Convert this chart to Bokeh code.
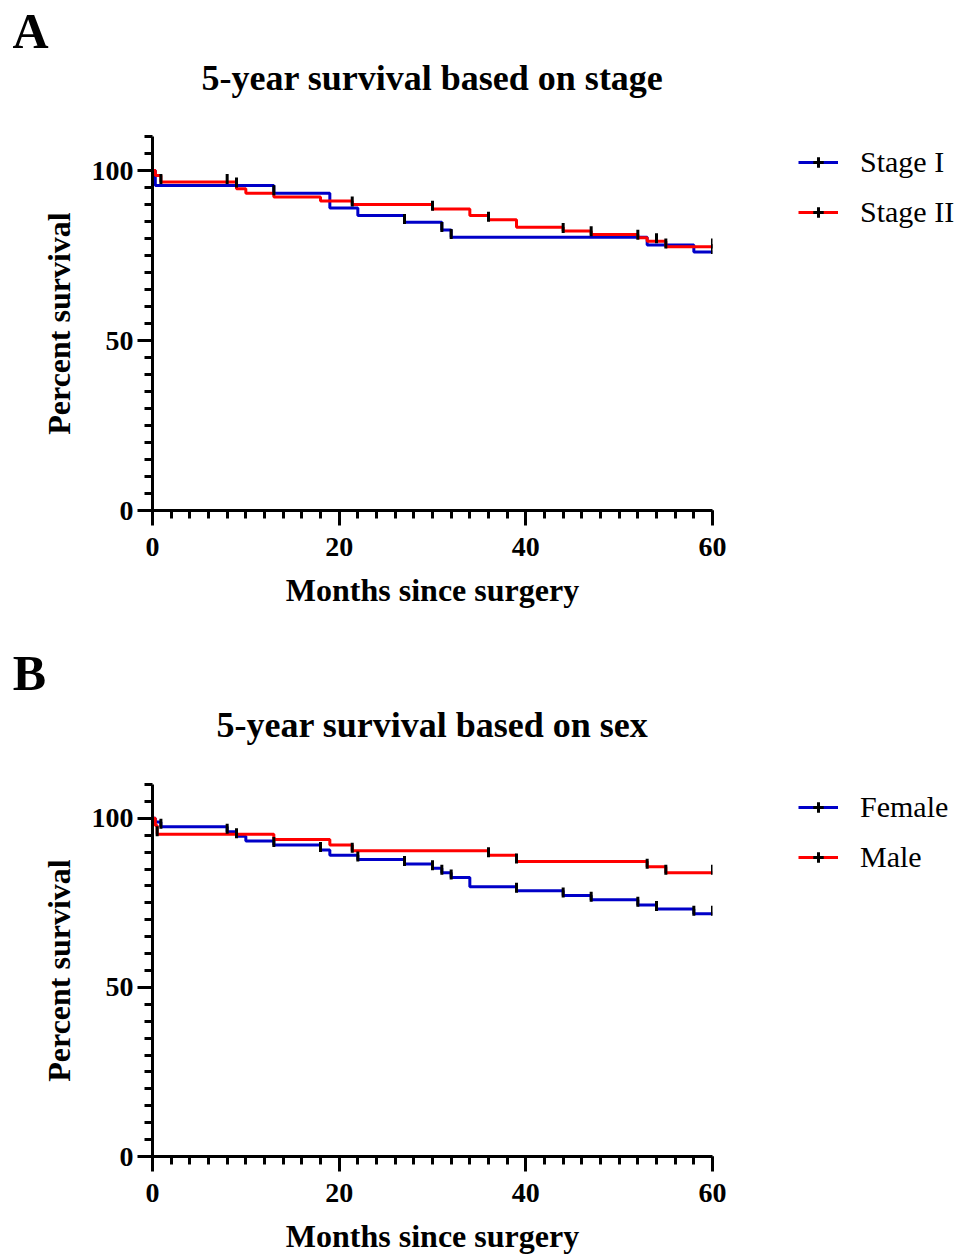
import math
from bokeh.plotting import figure
from bokeh.models import Range1d, FixedTicker, Legend, LegendItem, Label
from bokeh.layouts import column, row
from bokeh.embed import file_html
from bokeh.resources import INLINE

# ---------------- data ----------------
# Panel A: survival by stage (months, percent survival)
stage1_t = [0, 0.3, 13, 19, 22, 27, 31, 32, 53, 58, 60]
stage1_s = [100, 95.6, 93.3, 89.0, 86.8, 84.8, 82.5, 80.4, 78.1, 76.0, 76.0]
stage1_cens = [9, 13, 27, 31, 32, 60]

stage2_t = [0, 0.3, 0.9, 9, 10, 13, 18, 21.4, 30, 34, 36, 39, 44, 47, 52, 53, 55, 60]
stage2_s = [100, 98.5, 96.6, 94.6, 93.3, 92.2, 91.0, 90.0, 88.7, 86.8, 85.5, 83.3, 82.2, 81.2, 80.2, 79.2, 77.6, 77.6]
stage2_cens = [0.9, 8, 21.4, 30, 36, 44, 47, 52, 54, 55, 60]

# Panel B: survival by sex
female_t = [0, 0.3, 0.9, 8, 9, 10, 13, 18, 19, 22, 27, 30, 31, 32, 34, 39, 44, 47, 52, 54, 58, 60]
female_s = [100, 98.9, 97.5, 96.0, 94.7, 93.3, 92.1, 90.6, 89.1, 87.8, 86.5, 85.2, 83.9, 82.5, 79.8, 78.6, 77.2, 75.9, 74.4, 73.2, 71.8, 71.8]
female_cens = [0.9, 8, 9, 13, 18, 22, 27, 30, 31, 32, 39, 44, 47, 52, 54, 58, 60]

male_t = [0, 0.3, 0.5, 13, 19, 21.4, 36, 39, 53, 55, 60]
male_s = [100, 97.9, 95.3, 93.7, 92.1, 90.4, 89.1, 87.2, 85.7, 83.9, 83.9]
male_cens = [0.5, 21.4, 36, 39, 53, 55, 60]

x_major = [0, 20, 40, 60]
y_major = [0, 50, 100]
X_MAX, Y_MAX = 60, 110

BLUE = "#0000C8"
RED = "#FF0000"
FONT = "Liberation Serif"

W = 957
MAIN_W = 745
LEG_W = W - MAIN_W
FRAME_L, FRAME_R = 152, 712
TOP_PAD = 6
LEG_GLYPH_X = 798


def step_value(ts, ss, t):
    v = ss[0]
    for ti, si in zip(ts, ss):
        if ti <= t:
            v = si
    return v


def blank(width, height):
    f = figure(width=width, height=height, output_backend="svg", toolbar_location=None,
               x_axis_type=None, y_axis_type=None,
               min_border_left=0, min_border_right=0, min_border_top=0, min_border_bottom=0)
    f.outline_line_color = None
    f.grid.visible = False
    return f


def make_panel(letter, title, series, panel_h, frame_top, frame_bottom,
               letter_xy, title_xy, legend_row1_y):
    hdr_h = frame_top - TOP_PAD
    body_h = panel_h - hdr_h

    # header: panel letter + title (pixel coordinate ranges)
    hdr = blank(W, hdr_h)
    hdr.x_range = Range1d(0, W)
    hdr.y_range = Range1d(hdr_h, 0)
    hdr.add_layout(Label(x=letter_xy[0], y=letter_xy[1], text=letter, text_align="center",
                         text_baseline="middle", text_font=FONT, text_font_style="bold",
                         text_font_size="50px", text_color="black"))
    hdr.add_layout(Label(x=title_xy[0], y=title_xy[1], text=title, text_align="center",
                         text_baseline="middle", text_font=FONT, text_font_style="bold",
                         text_font_size="36px", text_color="black"))

    # main plot
    p = figure(width=MAIN_W, height=body_h, output_backend="svg", toolbar_location=None,
               x_range=Range1d(0, X_MAX), y_range=Range1d(0, Y_MAX),
               min_border_left=FRAME_L, min_border_right=MAIN_W - FRAME_R,
               min_border_top=TOP_PAD, min_border_bottom=panel_h - frame_bottom)
    p.outline_line_color = None
    p.grid.visible = False

    rend = []
    for name, ts, ss, cens, color in series:
        p.step(ts, ss, mode="after", line_color=color, line_width=3)
        rend.append((ts, ss, cens))
    for ts, ss, cens in rend:
        cy = [step_value(ts, ss, c) + 0.9 for c in cens]
        p.scatter(cens, cy, marker="dash", angle=math.pi / 2, size=10,
                  line_color="black", line_width=3)

    for ax in (p.xaxis, p.yaxis):
        ax.axis_line_width = 3
        ax.major_tick_line_width = 3
        ax.minor_tick_line_width = 3
        ax.major_tick_in = 0
        ax.minor_tick_in = 0
        ax.major_tick_out = 15
        ax.minor_tick_out = 8
        ax.major_label_text_font = FONT
        ax.major_label_text_font_style = "bold"
        ax.major_label_text_font_size = "28px"
        ax.major_label_text_color = "black"
        ax.axis_label_text_font = FONT
        ax.axis_label_text_font_style = "bold"
        ax.axis_label_text_font_size = "32px"
        ax.axis_label_text_color = "black"
    p.xaxis.ticker = FixedTicker(ticks=x_major, minor_ticks=list(range(0, 61, 2)))
    p.yaxis.ticker = FixedTicker(ticks=y_major, minor_ticks=list(range(0, 111, 5)))
    p.xaxis.axis_label = "Months since surgery"
    p.yaxis.axis_label = "Percent survival"
    p.xaxis.major_label_standoff = 12
    p.yaxis.major_label_standoff = 4
    p.xaxis.axis_label_standoff = 13
    p.yaxis.axis_label_standoff = 12

    # legend in its own blank figure to the right (its frame is aligned with p's frame)
    lf = blank(LEG_W, body_h)
    lf.x_range = Range1d(0, 1)
    lf.y_range = Range1d(0, 1)
    items = []
    for name, ts, ss, cens, color in series:
        lr = lf.step([-5, -4], [-5, -5], mode="after", line_color=color, line_width=3)
        lt = lf.scatter([-5], [-5], marker="cross", size=10, line_color="black",
                        line_width=3)
        items.append(LegendItem(label=name, renderers=[lr, lt]))
    leg = Legend(items=items,
                 location=(LEG_GLYPH_X - MAIN_W, frame_bottom - legend_row1_y - 67),
                 padding=0, margin=0, border_line_alpha=0, background_fill_alpha=0,
                 glyph_width=40, glyph_height=26, label_standoff=22, spacing=16,
                 label_text_font=FONT, label_text_font_size="30px",
                 label_text_color="black")
    lf.add_layout(leg)

    return column(hdr, row(p, lf, spacing=0), spacing=0)


pA = make_panel("A", "5-year survival based on stage",
                [("Stage I", stage1_t, stage1_s, stage1_cens, BLUE),
                 ("Stage II", stage2_t, stage2_s, stage2_cens, RED)],
                628, 136, 510, (30, 30), (432, 77), 162)
pB = make_panel("B", "5-year survival based on sex",
                [("Female", female_t, female_s, female_cens, BLUE),
                 ("Male", male_t, male_s, male_cens, RED)],
                628, 156, 530, (29, 44), (432, 96), 181)

layout = column(pA, pB, spacing=0)
open("out.html", "w").write(file_html(layout, INLINE))
